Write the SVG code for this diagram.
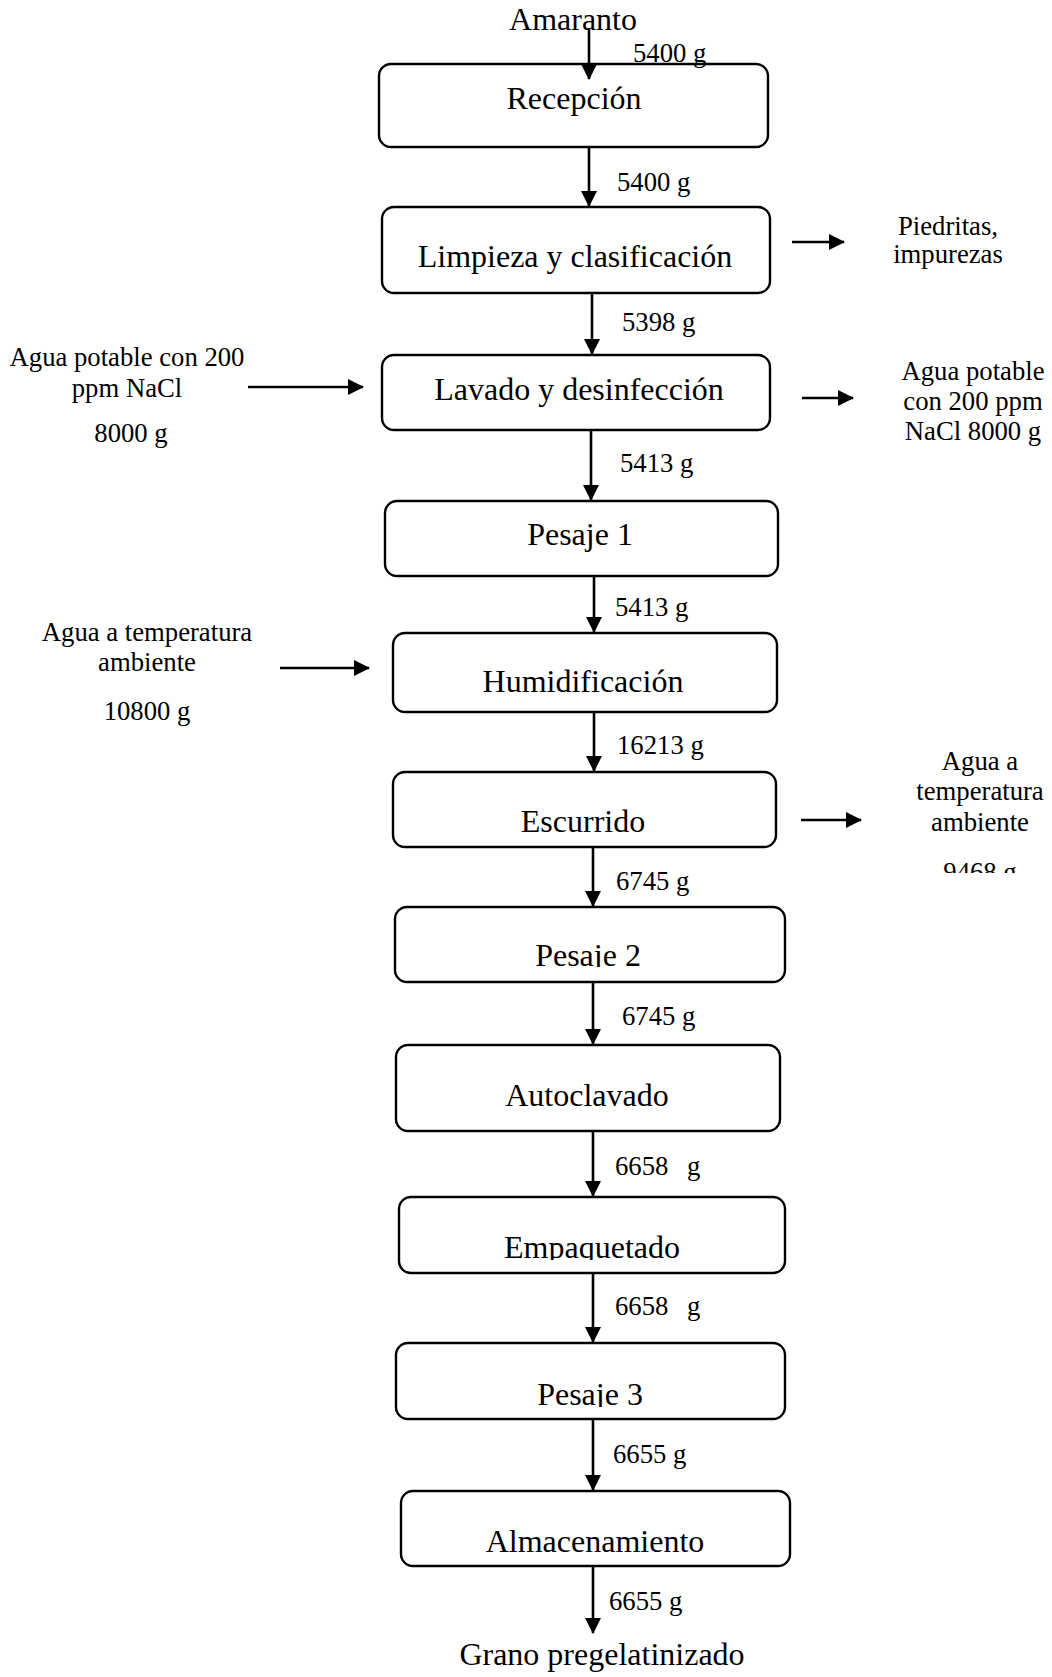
<svg xmlns="http://www.w3.org/2000/svg" width="1052" height="1677" viewBox="0 0 1052 1677">
  <style>
    .box { fill: #ffffff; stroke: #000000; stroke-width: 2.4; }
    .step { font-family: "Liberation Serif", "Times New Roman", serif; font-size: 32px; fill: #000000; text-anchor: middle; }
    .note { font-family: "Liberation Serif", "Times New Roman", serif; font-size: 26.7px; fill: #000000; }
    .mid { text-anchor: middle; }
    .flow { stroke: #000000; stroke-width: 2.6; fill: none; marker-end: url(#head); }
  </style>
  <defs>
    <marker id="head" viewBox="0 0 16 16" refX="15" refY="8" markerWidth="16" markerHeight="16" markerUnits="userSpaceOnUse" orient="auto">
      <path d="M0,0 L16,8 L0,16 z" fill="#000000"/>
    </marker>
    <clipPath id="cut-pesaje2"><rect x="380" y="900" width="420" height="67"/></clipPath>
    <clipPath id="cut-empaquetado"><rect x="380" y="1190" width="420" height="70"/></clipPath>
    <clipPath id="cut-pesaje3"><rect x="380" y="1336" width="420" height="71"/></clipPath>
    <clipPath id="cut-9468"><rect x="880" y="840" width="172" height="33"/></clipPath>
  </defs>

  <rect width="1052" height="1677" fill="#ffffff"/>

  <!-- process steps -->
  <g id="recepcion">
    <rect class="box" x="379" y="64" width="389" height="83" rx="12"/>
    <text class="step" x="574" y="109">Recepción</text>
  </g>
  <g id="limpieza">
    <rect class="box" x="382" y="207" width="388" height="86" rx="12"/>
    <text class="step" x="575" y="267">Limpieza y clasificación</text>
  </g>
  <g id="lavado">
    <rect class="box" x="382" y="355" width="388" height="75" rx="12"/>
    <text class="step" x="579" y="400">Lavado y desinfección</text>
  </g>
  <g id="pesaje1">
    <rect class="box" x="385" y="501" width="393" height="75" rx="12"/>
    <text class="step" x="580" y="545">Pesaje 1</text>
  </g>
  <g id="humidificacion">
    <rect class="box" x="393" y="633" width="384" height="79" rx="12"/>
    <text class="step" x="583" y="692">Humidificación</text>
  </g>
  <g id="escurrido">
    <rect class="box" x="393" y="772" width="383" height="75" rx="12"/>
    <text class="step" x="583" y="832">Escurrido</text>
  </g>
  <g id="pesaje2">
    <rect class="box" x="395" y="907" width="390" height="75" rx="12"/>
    <text class="step" x="588" y="966" clip-path="url(#cut-pesaje2)">Pesaje 2</text>
  </g>
  <g id="autoclavado">
    <rect class="box" x="396" y="1045" width="384" height="86" rx="12"/>
    <text class="step" x="587" y="1106">Autoclavado</text>
  </g>
  <g id="empaquetado">
    <rect class="box" x="399" y="1197" width="386" height="76" rx="12"/>
    <text class="step" x="592" y="1258" clip-path="url(#cut-empaquetado)">Empaquetado</text>
  </g>
  <g id="pesaje3">
    <rect class="box" x="396" y="1343" width="389" height="76" rx="12"/>
    <text class="step" x="590" y="1405" clip-path="url(#cut-pesaje3)">Pesaje 3</text>
  </g>
  <g id="almacenamiento">
    <rect class="box" x="401" y="1491" width="389" height="75" rx="12"/>
    <text class="step" x="595" y="1552">Almacenamiento</text>
  </g>

  <!-- start and end of the line -->
  <g id="entrada">
    <text class="step" x="573" y="30">Amaranto</text>
  </g>
  <g id="producto">
    <text class="step" x="602" y="1665">Grano pregelatinizado</text>
  </g>

  <!-- side inputs and outputs -->
  <g id="agua-lavado-entrada">
    <text class="note mid" x="127" y="366">Agua potable con 200</text>
    <text class="note mid" x="127" y="397">ppm NaCl</text>
    <text class="note mid" x="131" y="442">8000 g</text>
  </g>
  <g id="agua-humidificacion-entrada">
    <text class="note mid" x="147" y="641">Agua a temperatura</text>
    <text class="note mid" x="147" y="671">ambiente</text>
    <text class="note mid" x="147" y="720">10800 g</text>
  </g>
  <g id="impurezas-salida">
    <text class="note mid" x="948" y="235">Piedritas,</text>
    <text class="note mid" x="948" y="263">impurezas</text>
  </g>
  <g id="agua-lavado-salida">
    <text class="note mid" x="973" y="380">Agua potable</text>
    <text class="note mid" x="973" y="410">con 200 ppm</text>
    <text class="note mid" x="973" y="440">NaCl 8000 g</text>
  </g>
  <g id="agua-escurrido-salida">
    <text class="note mid" x="980" y="770">Agua a</text>
    <text class="note mid" x="980" y="800">temperatura</text>
    <text class="note mid" x="980" y="831">ambiente</text>
    <text class="note mid" x="980" y="881" clip-path="url(#cut-9468)">9468 g</text>
  </g>

  <!-- connectors -->
  <g id="connectors">
    <line class="flow" x1="589" y1="28" x2="589" y2="79"/>
    <line class="flow" x1="589" y1="147" x2="589" y2="206"/>
    <line class="flow" x1="592" y1="293" x2="592" y2="354"/>
    <line class="flow" x1="591" y1="430" x2="591" y2="500"/>
    <line class="flow" x1="594" y1="576" x2="594" y2="632"/>
    <line class="flow" x1="594" y1="712" x2="594" y2="771"/>
    <line class="flow" x1="593" y1="847" x2="593" y2="906"/>
    <line class="flow" x1="593" y1="982" x2="593" y2="1044"/>
    <line class="flow" x1="593" y1="1131" x2="593" y2="1196"/>
    <line class="flow" x1="593" y1="1273" x2="593" y2="1342"/>
    <line class="flow" x1="593" y1="1419" x2="593" y2="1490"/>
    <line class="flow" x1="593" y1="1566" x2="593" y2="1633"/>

    <line class="flow" x1="248" y1="387" x2="363" y2="387"/>
    <line class="flow" x1="280" y1="668" x2="369" y2="668"/>
    <line class="flow" x1="792" y1="242" x2="844" y2="242"/>
    <line class="flow" x1="802" y1="398" x2="853" y2="398"/>
    <line class="flow" x1="801" y1="820" x2="861" y2="820"/>

    <text class="note" x="633" y="62">5400 g</text>
    <text class="note" x="617" y="191">5400 g</text>
    <text class="note" x="622" y="331">5398 g</text>
    <text class="note" x="620" y="472">5413 g</text>
    <text class="note" x="615" y="616">5413 g</text>
    <text class="note" x="617" y="754">16213 g</text>
    <text class="note" x="616" y="890">6745 g</text>
    <text class="note" x="622" y="1025">6745 g</text>
    <text class="note" x="615" y="1175">6658<tspan x="687">g</tspan></text>
    <text class="note" x="615" y="1315">6658<tspan x="687">g</tspan></text>
    <text class="note" x="613" y="1463">6655 g</text>
    <text class="note" x="609" y="1610">6655 g</text>
  </g>
</svg>
